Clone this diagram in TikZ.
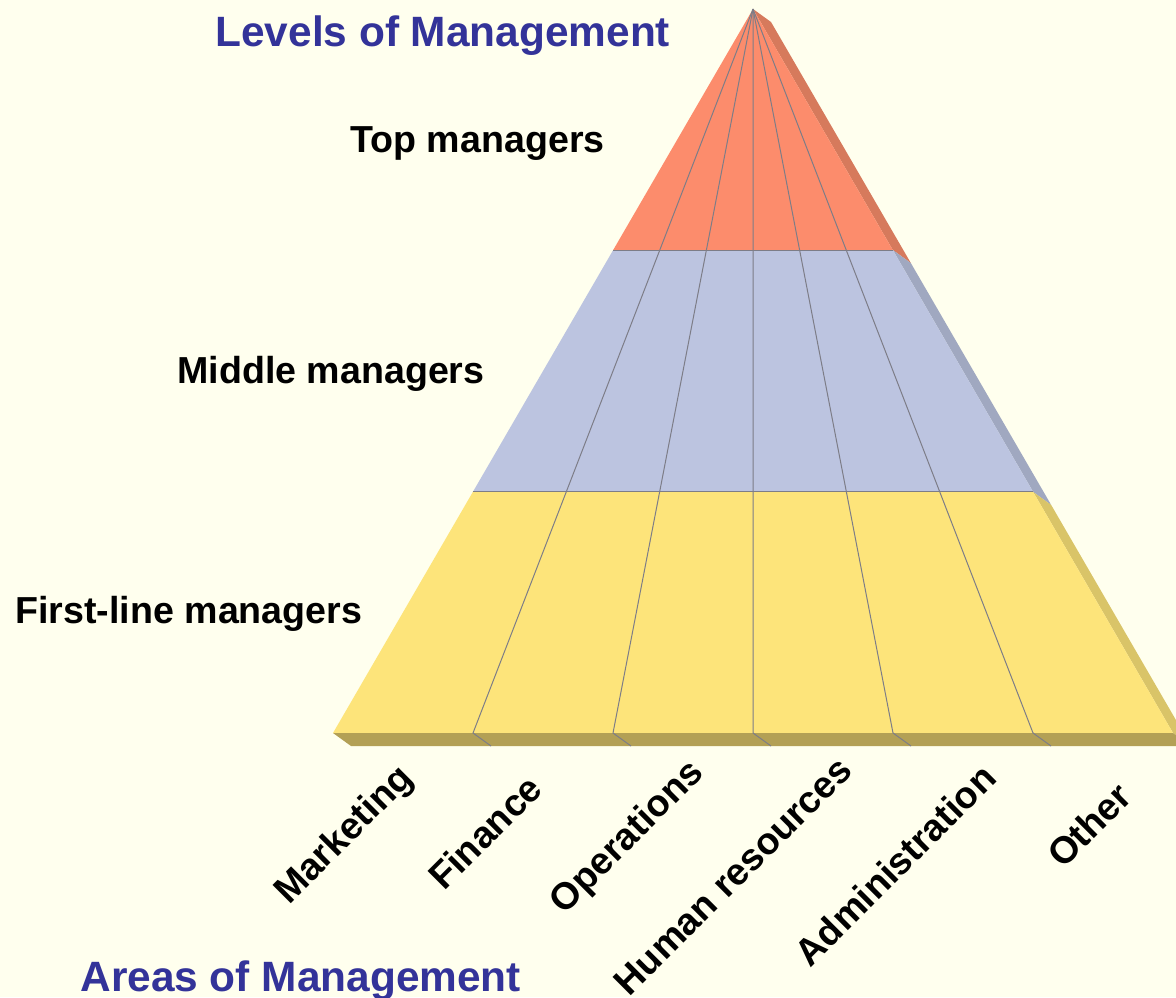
\documentclass[tikz,border=0pt]{standalone}
\usepackage{fontspec}
\setmainfont{Liberation Sans}
\usetikzlibrary{calc}

\definecolor{paper}{RGB}{255,255,238}
\definecolor{topfill}{RGB}{252,140,108}
\definecolor{topside}{RGB}{214,122,92}
\definecolor{midfill}{RGB}{188,196,224}
\definecolor{midside}{RGB}{160,168,192}
\definecolor{lowfill}{RGB}{253,228,122}
\definecolor{lowside}{RGB}{217,196,104}
\definecolor{slabfront}{RGB}{179,160,85}
\definecolor{navy}{RGB}{51,51,153}
\definecolor{rulegray}{RGB}{125,125,135}

\tikzset{level/.style={font=\fontsize{18.8}{20}\selectfont\bfseries, anchor=base west, inner sep=0pt},
headline/.style={font=\fontsize{21.2}{24}\selectfont\bfseries, text=navy, anchor=base west, inner sep=0pt},
area/.style={font=\fontsize{18.8}{20}\selectfont\bfseries, rotate=45, inner sep=0pt},
%thin lines between the cells
split/.style={draw=rulegray, line width=0.5pt}}

\begin{document}
\begin{tikzpicture}[x=0.5pt, y=-0.5pt]

    \useasboundingbox (0,0) rectangle (1176,997);
    \fill[paper] (0,0) rectangle (1176,997);
    \clip (0,0) rectangle (1176,997);

    \coordinate (apex) at (753,9);
    \foreach \i in {0,...,6}
    \coordinate (b\i) at ({333+140*\i},733);

    % band boundaries on each fan line
    \foreach \i in {0,...,6} {
      \coordinate (u\i) at ($(apex)!0.3329!(b\i)$);
      \coordinate (m\i) at ($(apex)!0.6671!(b\i)$);
    }

    % right hand side faces
    \fill[topside] (apex) -- ++(18,13) -- ($(u6)+(18,13)$) -- (u6) -- cycle;
    \fill[midside] (u6) -- ++(18,13) -- ($(m6)+(18,13)$) -- (m6) -- cycle;
    \fill[lowside] (m6) -- ++(18,13) -- ($(b6)+(18,13)$) -- (b6) -- cycle;

    % front faces
    \fill[topfill] (apex) -- (u0) -- (u6) -- cycle;
    \fill[midfill] (u0) -- (m0) -- (m6) -- (u6) -- cycle;
    \fill[lowfill] (m0) -- (b0) -- (b6) -- (m6) -- cycle;
    \fill[slabfront] (b0) -- ++(18,13) -- ($(b6)+(18,13)$) -- (b6) -- cycle;

    \foreach \i in {1,...,5}
    \draw[split] (apex) -- (b\i) -- ++(18,13);
    \draw[split] (u0) -- (u6);
    \draw[split] (m0) -- (m6);

    \node[headline] (levels) at (215,46) {Levels of Management};
    \node[headline] (areas) at (80,991) {Areas of Management};

    \node[level] (top) at (350,152) {Top managers};
    \node[level] (middle) at (177,383) {Middle managers};
    \node[level] (first) at (15,623) {First-line managers};

    \foreach \name/\x/\y/\txt in {mkt/345/836/Marketing, fin/485/832/Finance,
      ops/628/838/Operations, hr/733/876/Human resources,
      adm/895/865/Administration, oth/1089/825/Other}
    \node[area] (\name) at (\x,\y) {\txt};

  \end{tikzpicture}
\end{document}
